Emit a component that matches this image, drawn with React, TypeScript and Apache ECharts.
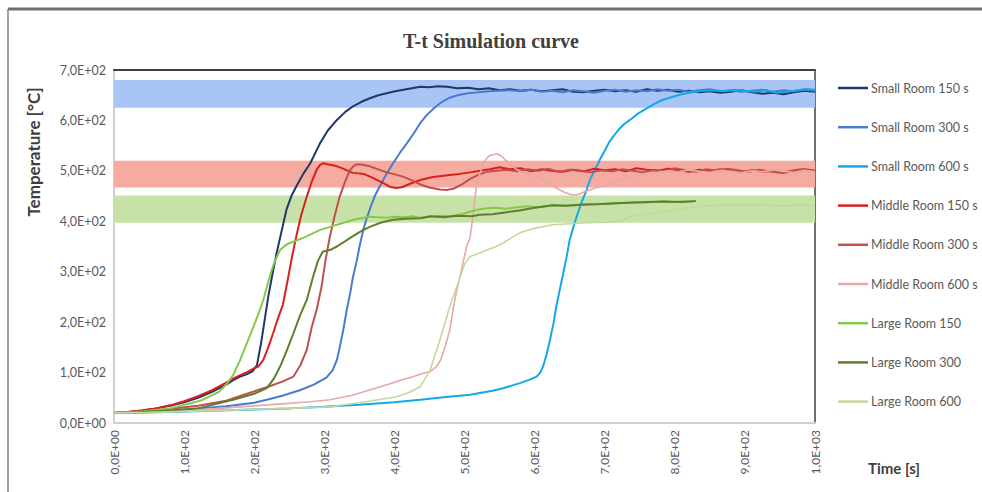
import React, { useEffect, useRef } from "react";
import * as echarts from "echarts";

// ---------- data ----------
const chartTitle = "T-t Simulation curve";
const yAxisTitle = "Temperature [°C]";
const xAxisTitle = "Time [s]";

const seriesNames = [
  "Small Room 150 s",
  "Small Room 300 s",
  "Small Room 600 s",
  "Middle Room 150 s",
  "Middle Room 300 s",
  "Middle Room 600 s",
  "Large Room 150",
  "Large Room 300",
  "Large Room 600",
];

const bandBlue = [625, 680];
const bandRed = [467, 520];
const bandGreen = [397, 451];

const small150 = [
  [0, 20], [20, 22], [40, 25], [60, 29], [80, 34], [100, 41], [120, 50], [140, 62], [160, 76], [170, 85],
  [180, 92], [190, 97], [198, 103], [204, 115], [210, 160], [215, 205], [220, 250], [226, 295], [232, 337],
  [239, 380], [246, 423], [253, 450], [260, 469], [270, 494], [280, 515], [294, 555], [305, 580], [318, 601],
  [330, 617], [341, 628], [353, 637], [365, 644], [377, 650], [389, 654], [401, 658], [413, 661], [425, 664],
  [437, 667], [450, 666], [462, 668], [475, 667], [490, 664], [505, 665], [520, 662], [535, 664], [550, 660],
  [565, 662], [580, 659], [595, 661], [610, 658], [625, 660], [640, 662], [655, 657], [670, 656], [685, 659],
  [700, 661], [715, 658], [730, 660], [745, 657], [760, 662], [775, 659], [790, 661], [805, 657], [820, 659],
  [835, 656], [850, 658], [865, 655], [880, 657], [895, 660], [910, 656], [925, 653], [940, 655], [955, 652],
  [970, 656], [985, 659], [1000, 657],
];

const small300 = [
  [0, 20], [40, 22], [80, 25], [120, 29], [160, 33], [200, 40], [218, 46], [240, 54], [265, 65], [285, 76],
  [303, 90], [312, 105], [318, 125], [322, 150], [327, 184], [332, 224], [337, 258], [341, 290], [346, 320],
  [351, 355], [356, 385], [361, 408], [366, 428], [372, 450], [379, 469], [388, 492], [398, 515], [408, 536],
  [418, 555], [428, 575], [437, 595], [447, 612], [458, 626], [468, 637], [479, 645], [490, 650], [505, 654],
  [520, 656], [535, 658], [550, 659], [565, 660], [580, 658], [595, 661], [610, 657], [625, 659], [640, 656],
  [655, 660], [670, 658], [685, 655], [700, 659], [715, 661], [730, 657], [745, 660], [760, 658], [775, 662],
  [790, 659], [805, 661], [820, 657], [835, 660], [850, 662], [865, 658], [880, 660], [895, 657], [910, 659],
  [925, 661], [940, 657], [955, 660], [970, 658], [985, 662], [1000, 659],
];

const small600 = [
  [0, 20], [50, 21], [100, 23], [150, 25], [200, 27], [250, 29], [300, 32], [350, 36], [400, 41], [437, 46],
  [470, 51], [508, 56], [540, 64], [555, 69], [579, 79], [595, 87], [603, 92], [608, 100], [612, 112],
  [617, 135], [622, 165], [627, 198], [631, 231], [636, 265], [641, 298], [646, 332], [650, 363], [655, 387],
  [660, 409], [665, 430], [670, 448], [674, 462], [679, 482], [684, 497], [689, 510], [693, 522], [700, 540],
  [706, 556], [712, 568], [720, 582], [728, 593], [736, 601], [748, 614], [760, 624], [771, 633], [783, 641],
  [795, 646], [807, 651], [820, 655], [830, 657], [840, 659], [855, 660], [870, 658], [885, 661], [900, 659],
  [915, 657], [930, 660], [945, 655], [960, 657], [975, 660], [990, 662], [1000, 661],
];

const middle150 = [
  [0, 20], [20, 22], [40, 25], [60, 29], [80, 35], [100, 43], [120, 53], [140, 65], [160, 80], [170, 88],
  [180, 95], [190, 101], [199, 108], [206, 112], [213, 125], [220, 150], [227, 178], [234, 208], [241, 235],
  [248, 285], [254, 330], [260, 370], [267, 412], [275, 449], [282, 478], [289, 502], [294, 512], [298, 515],
  [305, 513], [312, 511], [318, 509], [326, 505], [334, 500], [341, 496], [349, 495], [356, 494], [366, 488],
  [375, 482], [385, 475], [394, 468], [403, 466], [412, 468], [418, 472], [427, 477], [437, 482], [455, 488],
  [479, 492], [493, 494], [508, 497], [522, 500], [536, 503], [550, 507], [565, 503], [580, 505], [595, 499],
  [610, 503], [625, 500], [640, 498], [655, 502], [670, 499], [685, 504], [700, 501], [715, 503], [730, 499],
  [745, 505], [760, 502], [775, 500], [790, 504], [805, 501], [820, 498], [835, 502], [850, 499], [865, 503],
  [880, 500], [895, 497], [910, 501], [925, 498], [940, 500], [955, 496], [970, 499], [985, 503], [1000, 500],
];

const middle300 = [
  [0, 20], [40, 23], [80, 28], [120, 34], [160, 44], [194, 60], [220, 72], [240, 82], [256, 92], [266, 115],
  [275, 145], [282, 190], [289, 224], [296, 270], [302, 325], [308, 370], [315, 412], [322, 449], [330, 480],
  [337, 502], [342, 510], [346, 513], [355, 512], [365, 509], [377, 503], [389, 497], [401, 493], [413, 488],
  [425, 481], [437, 473], [450, 467], [465, 463], [475, 462], [485, 465], [495, 472], [508, 484], [520, 492],
  [532, 498], [545, 500], [560, 502], [575, 499], [590, 503], [605, 500], [620, 504], [635, 498], [650, 502],
  [665, 500], [680, 497], [695, 501], [710, 499], [725, 503], [740, 500], [755, 497], [770, 502], [785, 499],
  [800, 505], [815, 501], [830, 498], [845, 503], [860, 500], [875, 504], [890, 501], [905, 498], [920, 502],
  [935, 499], [950, 496], [965, 500], [980, 503], [1000, 499],
];

const middle600 = [
  [0, 20], [50, 22], [100, 24], [123, 26], [160, 30], [200, 34], [240, 38], [280, 42], [308, 46], [340, 55],
  [380, 72], [410, 85], [427, 92], [440, 98], [451, 102], [460, 112], [466, 125], [472, 150], [479, 184],
  [484, 228], [489, 264], [496, 305], [503, 350], [508, 368], [513, 420], [517, 470], [522, 495], [528, 518],
  [535, 530], [546, 534], [552, 530], [558, 522], [565, 514], [572, 505], [579, 499], [591, 494], [603, 489],
  [615, 481], [626, 470], [636, 462], [645, 456], [655, 452], [664, 454], [674, 460], [686, 466], [698, 470],
  [712, 476], [725, 483], [736, 488], [746, 492], [760, 495], [775, 497], [790, 500], [805, 498], [820, 502],
  [835, 499], [850, 497], [865, 501], [880, 499], [895, 496], [910, 500], [925, 498], [940, 502], [955, 499],
  [970, 497], [985, 501], [1000, 498],
];

const large150 = [
  [0, 20], [40, 23], [80, 29], [123, 44], [150, 62], [161, 78], [170, 95], [180, 125], [190, 160], [199, 191],
  [208, 224], [213, 244], [222, 290], [229, 320], [237, 343], [244, 352], [251, 357], [260, 362], [270, 367],
  [282, 375], [294, 383], [306, 388], [318, 393], [330, 398], [341, 403], [353, 406], [365, 409], [377, 408],
  [389, 407], [401, 409], [413, 408], [425, 410], [437, 407], [450, 409], [465, 411], [480, 410], [495, 414],
  [510, 420], [522, 424], [532, 426], [545, 427], [560, 425], [575, 428], [590, 430], [605, 428], [626, 432],
  [645, 431], [665, 433], [685, 435], [705, 434], [722, 436], [740, 438], [760, 437], [780, 439], [800, 438],
  [815, 440], [825, 439],
];

const large300 = [
  [0, 20], [40, 22], [80, 25], [120, 29], [170, 46], [200, 58], [218, 69], [228, 88], [237, 112], [246, 142],
  [256, 178], [265, 212], [275, 244], [284, 290], [291, 322], [298, 340], [308, 343], [318, 350], [327, 358],
  [337, 367], [346, 375], [356, 383], [365, 389], [380, 397], [398, 403], [415, 405], [437, 406], [451, 410],
  [470, 408], [490, 411], [510, 410], [522, 413], [540, 414], [560, 418], [580, 422], [600, 427], [626, 432],
  [645, 431], [665, 433], [690, 434], [712, 436], [736, 437], [760, 438], [785, 439], [810, 438], [830, 440],
];

const large600 = [
  [0, 20], [50, 21], [100, 23], [150, 25], [200, 27], [250, 29], [308, 32], [350, 40], [403, 52], [420, 60],
  [437, 72], [451, 105], [465, 165], [479, 231], [494, 290], [500, 315], [508, 330], [520, 336], [532, 343],
  [545, 350], [555, 357], [567, 367], [579, 377], [590, 382], [603, 387], [615, 390], [626, 393], [650, 395],
  [674, 397], [700, 398], [722, 400], [736, 409], [760, 414], [783, 419], [807, 424], [831, 429], [855, 431],
  [879, 433], [903, 432], [926, 433], [950, 430], [975, 432], [1000, 431],
];

const seriesData = [small150, small300, small600, middle150, middle300, middle600, large150, large300, large600];

// ---------- styles ----------
const seriesColors = ["#1f3864", "#4a7bd0", "#12a9ea", "#d91f1f", "#c0504d", "#e8a8a8", "#86c84a", "#5e7f2e", "#c4d89c"];
const seriesWidths = [2, 2, 2, 2, 2, 1.6, 2, 2, 1.6];
const bandColors = ["#a9c5f5", "#f5aba0", "#c7e2a9"];

const FONT = "Lato, 'Open Sans', sans-serif";

function sci(v: number): string {
  if (v === 0) return "0,0E+00";
  const e = Math.floor(Math.log10(v) + 1e-9);
  const m = v / Math.pow(10, e);
  return m.toFixed(1).replace(".", ",") + "E+" + String(e).padStart(2, "0");
}

export default function App() {
  const ref = useRef<HTMLDivElement>(null);

  useEffect(() => {
    if (!ref.current) return;
    const chart = echarts.init(ref.current, null, { renderer: "svg" });

    const bands = [bandBlue, bandRed, bandGreen].map((b, i) => [
      { yAxis: b[0], itemStyle: { color: bandColors[i], opacity: 1 } },
      { yAxis: b[1] },
    ]);

    const lineSeries = seriesNames.map((name, i) => ({
      name,
      type: "line",
      data: seriesData[i],
      showSymbol: false,
      symbol: "none",
      smooth: false,
      z: 3,
      color: seriesColors[i],
      lineStyle: { color: seriesColors[i], width: seriesWidths[i] },
    }));

    chart.setOption({
      animation: false,
      backgroundColor: "#ffffff",
      title: {
        text: chartTitle,
        left: "center",
        top: 26,
        textStyle: {
          fontFamily: "'Liberation Serif', 'DejaVu Serif', serif",
          fontWeight: "bold",
          fontSize: 20,
          color: "#404040",
        },
      },
      legend: {
        orient: "vertical",
        left: 833,
        top: 75,
        data: seriesNames,
        icon: "rect",
        itemWidth: 30,
        itemHeight: 2.5,
        itemGap: 23.2,
        textStyle: { fontFamily: FONT, fontSize: 12.5, color: "#595959", lineHeight: 16, padding: [0, 0, 0, -2] },
      },
      grid: { left: 114, right: 167, top: 70, bottom: 69 },
      xAxis: [
        {
          type: "value",
          min: 0,
          max: 1000,
          interval: 100,
          axisLine: { show: true, lineStyle: { color: "#d0d0d0", width: 2 } },
          axisTick: { show: false },
          splitLine: { show: false },
          axisLabel: {
            rotate: 90,
            margin: 7,
            formatter: (v: number) => sci(v),
            fontFamily: FONT,
            fontSize: 12,
            color: "#595959",
          },
        },
        {
          type: "value",
          position: "top",
          min: 0,
          max: 1000,
          axisLine: { show: true, onZero: false, lineStyle: { color: "#404040", width: 2 } },
          axisTick: { show: false },
          axisLabel: { show: false },
          splitLine: { show: false },
        },
      ],
      yAxis: [
        {
          type: "value",
          min: 0,
          max: 700,
          interval: 100,
          axisLine: { show: true, lineStyle: { color: "#d0d0d0", width: 2 } },
          axisTick: { show: false },
          splitLine: { show: false },
          axisLabel: {
            margin: 8,
            formatter: (v: number) => sci(v),
            fontFamily: FONT,
            fontSize: 12.5,
            color: "#595959",
          },
        },
        {
          type: "value",
          position: "right",
          min: 0,
          max: 700,
          axisLine: { show: true, onZero: false, lineStyle: { color: "#404040", width: 1.5 } },
          axisTick: { show: false },
          axisLabel: { show: false },
          splitLine: { show: false },
        },
      ],
      graphic: [
        { type: "line", shape: { x1: 8, y1: 9, x2: 982, y2: 9 }, style: { stroke: "#707070", lineWidth: 3 } },
        { type: "line", shape: { x1: 8, y1: 9, x2: 8, y2: 492 }, style: { stroke: "#808080", lineWidth: 1.5 } },
        {
          type: "text",
          x: 33,
          y: 152,
          rotation: Math.PI / 2,
          style: {
            text: yAxisTitle,
            fontFamily: FONT,
            fontWeight: "bold",
            fontSize: 17,
            fill: "#404040",
            textAlign: "center",
            textVerticalAlign: "middle",
          },
        },
        {
          type: "text",
          x: 868,
          y: 468,
          style: {
            text: xAxisTitle,
            fontFamily: FONT,
            fontWeight: "bold",
            fontSize: 15,
            fill: "#404040",
            textAlign: "left",
            textVerticalAlign: "middle",
          },
        },
      ],
      series: [
        {
          name: "bands",
          type: "line",
          data: [],
          z: 1,
          silent: true,
          markArea: { silent: true, data: bands },
        },
        ...lineSeries,
      ],
    });

    return () => chart.dispose();
  }, []);

  return (
    <div
      ref={ref}
      style={{ position: "absolute", left: 0, top: 0, width: 982, height: 492, background: "#fff" }}
    />
  );
}
